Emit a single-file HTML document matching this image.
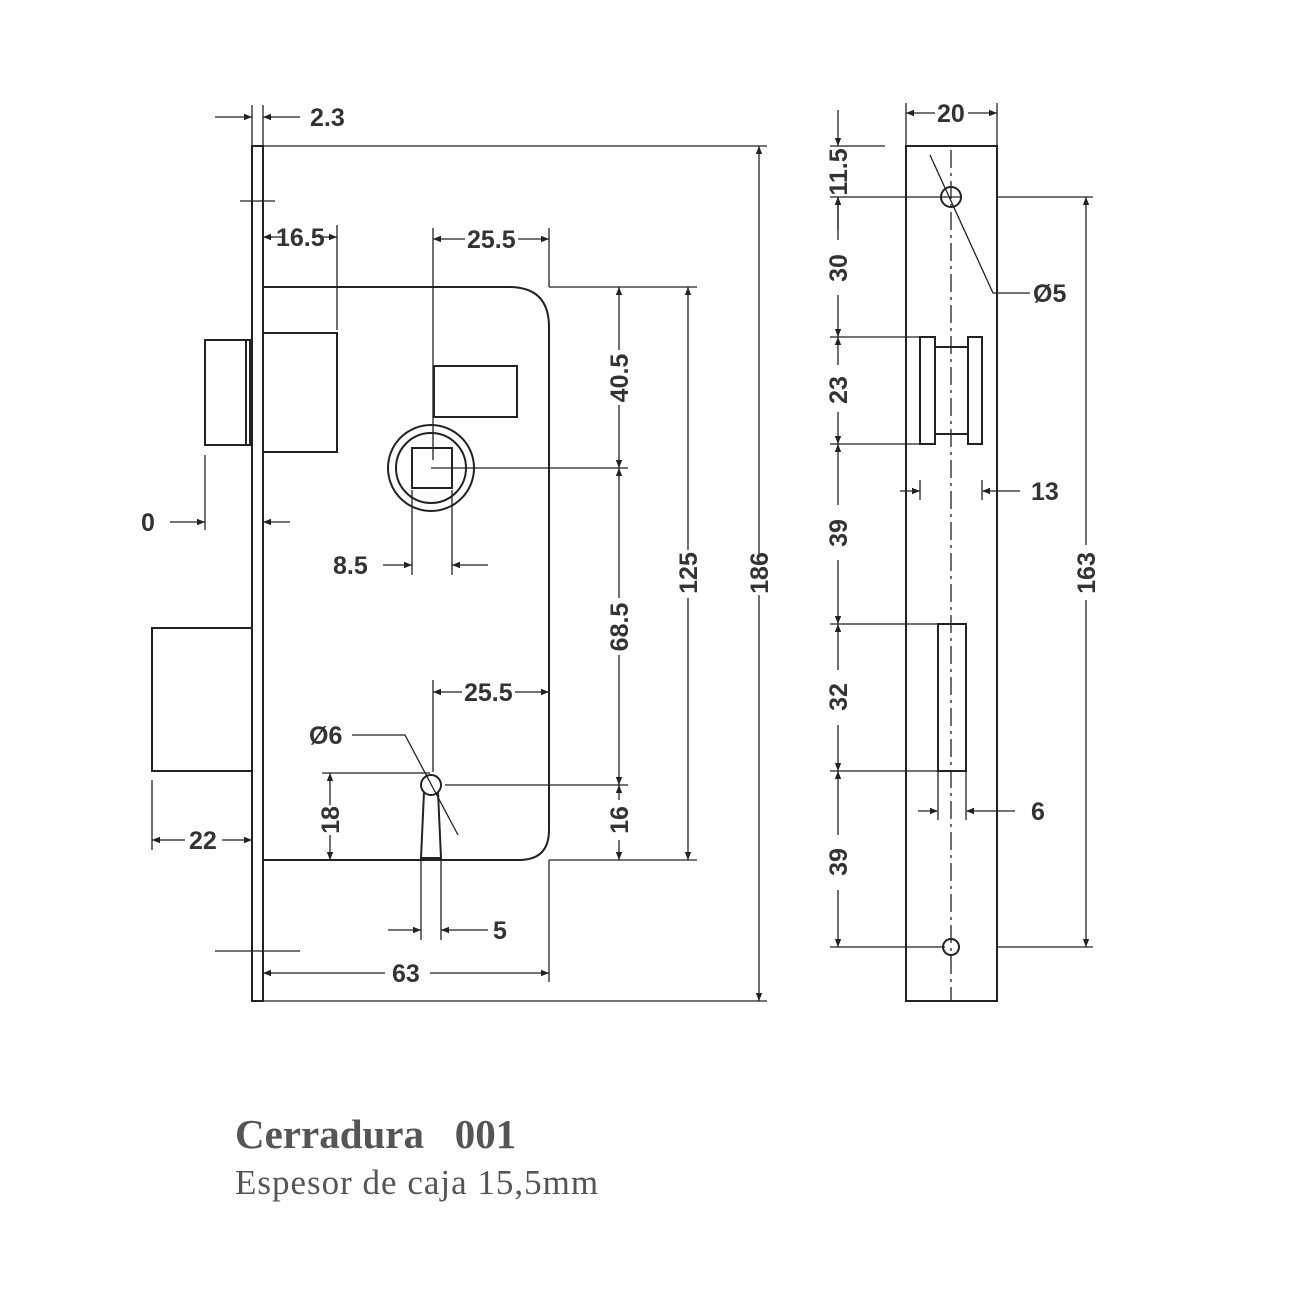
<!DOCTYPE html>
<html><head><meta charset="utf-8"><style>
html,body{margin:0;padding:0;background:#fff;}
svg{display:block}
.d{font-family:"Liberation Sans Narrow","Liberation Sans",sans-serif;font-size:25px;fill:#333;font-weight:bold;}
</style></head><body>
<svg width="1300" height="1300" viewBox="0 0 1300 1300" xmlns="http://www.w3.org/2000/svg">
<defs>
<marker id="a" viewBox="0 0 10 10" refX="10" refY="5" markerWidth="12" markerHeight="8" orient="auto-start-reverse" markerUnits="userSpaceOnUse"><path d="M0,1 L10,5 L0,9 z" fill="#222"/></marker>
</defs>
<g stroke="#222" fill="none" stroke-width="2">
<rect x="252" y="146" width="11" height="855"/>
<path d="M263,287 H509 Q549,287 549,327 V830 Q549,860 519,860 H263"/>
<rect x="205" y="340" width="45" height="105"/>
<line x1="246" y1="340" x2="246" y2="445"/>
<rect x="263" y="333" width="74" height="119"/>
<rect x="152" y="628" width="100" height="143"/>
<rect x="434" y="366" width="83" height="51"/>
<circle cx="431" cy="468" r="43"/>
<circle cx="431" cy="468" r="35"/>
<rect x="412" y="448" width="40" height="40"/>
<circle cx="431" cy="785" r="10"/>
<path d="M424,792 L421,858 H441 L438,792"/>
</g>
<g stroke="#222" fill="none" stroke-width="1.3">
<line x1="215" y1="117" x2="252" y2="117" marker-end="url(#a)"/>
<line x1="300" y1="117" x2="263" y2="117" marker-end="url(#a)"/>
<line x1="252" y1="105" x2="252" y2="146"/><line x1="263" y1="105" x2="263" y2="146"/>
<line x1="263" y1="146" x2="767" y2="146"/>
<line x1="263" y1="1001" x2="767" y2="1001"/>
<line x1="240" y1="201" x2="275" y2="201"/>
<line x1="215" y1="951" x2="300" y2="951"/>
<line x1="759" y1="146" x2="759" y2="555" marker-start="url(#a)"/>
<line x1="759" y1="595" x2="759" y2="1001" marker-end="url(#a)"/>
<line x1="549" y1="287" x2="697" y2="287"/><line x1="549" y1="860" x2="697" y2="860"/>
<line x1="688" y1="287" x2="688" y2="550" marker-start="url(#a)"/>
<line x1="688" y1="598" x2="688" y2="860" marker-end="url(#a)"/>
<line x1="619" y1="287" x2="619" y2="350" marker-start="url(#a)"/>
<line x1="619" y1="405" x2="619" y2="468" marker-end="url(#a)"/>
<line x1="619" y1="468" x2="619" y2="598" marker-start="url(#a)"/>
<line x1="619" y1="655" x2="619" y2="785" marker-end="url(#a)"/>
<line x1="619" y1="785" x2="619" y2="800" marker-start="url(#a)"/>
<line x1="619" y1="840" x2="619" y2="860" marker-end="url(#a)"/>
<line x1="431" y1="468" x2="628" y2="468"/>
<line x1="445" y1="785" x2="628" y2="785"/>
<line x1="337" y1="225" x2="337" y2="330"/>
<line x1="282" y1="237" x2="263" y2="237" marker-end="url(#a)"/>
<line x1="318" y1="237" x2="337" y2="237" marker-end="url(#a)"/>
<line x1="433" y1="228" x2="433" y2="460"/><line x1="549" y1="228" x2="549" y2="287"/>
<line x1="465" y1="239" x2="433" y2="239" marker-end="url(#a)"/>
<line x1="518" y1="239" x2="549" y2="239" marker-end="url(#a)"/>
<line x1="433" y1="680" x2="433" y2="772"/>
<line x1="462" y1="692" x2="433" y2="692" marker-end="url(#a)"/>
<line x1="515" y1="692" x2="549" y2="692" marker-end="url(#a)"/>
<line x1="412" y1="490" x2="412" y2="575"/><line x1="452" y1="490" x2="452" y2="575"/>
<line x1="383" y1="565" x2="412" y2="565" marker-end="url(#a)"/>
<line x1="488" y1="565" x2="452" y2="565" marker-end="url(#a)"/>
<line x1="205" y1="455" x2="205" y2="530"/>
<line x1="170" y1="522" x2="205" y2="522" marker-end="url(#a)"/>
<line x1="290" y1="522" x2="263" y2="522" marker-end="url(#a)"/>
<line x1="152" y1="780" x2="152" y2="850"/>
<line x1="185" y1="840" x2="152" y2="840" marker-end="url(#a)"/>
<line x1="222" y1="840" x2="252" y2="840" marker-end="url(#a)"/>
<line x1="322" y1="773" x2="430" y2="773"/>
<line x1="330" y1="805" x2="330" y2="773" marker-end="url(#a)"/>
<line x1="330" y1="835" x2="330" y2="860" marker-end="url(#a)"/>
<polyline points="352,735 405,735 458,835"/>
<line x1="421" y1="860" x2="421" y2="940"/><line x1="441" y1="860" x2="441" y2="940"/>
<line x1="388" y1="930" x2="421" y2="930" marker-end="url(#a)"/>
<line x1="488" y1="930" x2="441" y2="930" marker-end="url(#a)"/>
<line x1="549" y1="860" x2="549" y2="982"/>
<line x1="385" y1="973" x2="263" y2="973" marker-end="url(#a)"/>
<line x1="430" y1="973" x2="549" y2="973" marker-end="url(#a)"/>
</g>
<g stroke="#222" fill="none" stroke-width="2">
<rect x="906" y="146" width="91" height="855"/>
<circle cx="951" cy="197" r="10"/>
<circle cx="951" cy="947" r="8"/>
<rect x="920" y="337" width="15" height="107"/>
<rect x="968" y="337" width="14" height="107"/>
<line x1="935" y1="347" x2="968" y2="347"/><line x1="935" y1="434" x2="968" y2="434"/>
<rect x="938" y="624" width="28" height="147"/>
</g>
<g stroke="#222" fill="none" stroke-width="1.3">
<line x1="951" y1="150" x2="951" y2="1000" stroke-dasharray="18,5,3,5"/>
<line x1="906" y1="103" x2="906" y2="146"/><line x1="997" y1="103" x2="997" y2="146"/>
<line x1="935" y1="113" x2="906" y2="113" marker-end="url(#a)"/>
<line x1="968" y1="113" x2="997" y2="113" marker-end="url(#a)"/>
<line x1="830" y1="146" x2="885" y2="146"/>
<line x1="830" y1="197" x2="960" y2="197"/>
<line x1="830" y1="337" x2="920" y2="337"/>
<line x1="830" y1="444" x2="920" y2="444"/>
<line x1="830" y1="624" x2="938" y2="624"/>
<line x1="830" y1="771" x2="938" y2="771"/>
<line x1="830" y1="947" x2="945" y2="947"/>
<line x1="838" y1="110" x2="838" y2="146" marker-end="url(#a)"/>
<line x1="838" y1="230" x2="838" y2="197" marker-end="url(#a)"/>
<line x1="838" y1="197" x2="838" y2="240" marker-start="url(#a)"/>
<line x1="838" y1="295" x2="838" y2="337" marker-end="url(#a)"/>
<line x1="838" y1="337" x2="838" y2="365" marker-start="url(#a)"/>
<line x1="838" y1="412" x2="838" y2="444" marker-end="url(#a)"/>
<line x1="838" y1="444" x2="838" y2="505" marker-start="url(#a)"/>
<line x1="838" y1="560" x2="838" y2="624" marker-end="url(#a)"/>
<line x1="838" y1="624" x2="838" y2="670" marker-start="url(#a)"/>
<line x1="838" y1="725" x2="838" y2="771" marker-end="url(#a)"/>
<line x1="838" y1="771" x2="838" y2="835" marker-start="url(#a)"/>
<line x1="838" y1="890" x2="838" y2="947" marker-end="url(#a)"/>
<line x1="997" y1="947" x2="1093" y2="947"/>
<line x1="997" y1="197" x2="1093" y2="197"/>
<line x1="1086" y1="197" x2="1086" y2="545" marker-start="url(#a)"/>
<line x1="1086" y1="600" x2="1086" y2="947" marker-end="url(#a)"/>
<line x1="900" y1="491" x2="920" y2="491" marker-end="url(#a)"/>
<line x1="1020" y1="491" x2="982" y2="491" marker-end="url(#a)"/>
<line x1="920" y1="480" x2="920" y2="500"/><line x1="982" y1="480" x2="982" y2="500"/>
<line x1="918" y1="811" x2="938" y2="811" marker-end="url(#a)"/>
<line x1="1015" y1="811" x2="966" y2="811" marker-end="url(#a)"/>
<line x1="938" y1="771" x2="938" y2="820"/><line x1="966" y1="771" x2="966" y2="820"/>
<polyline points="1030,293 993,293 930,155"/>
</g>
<g class="d">
<text x="310" y="126">2.3</text>
<text x="276" y="246">16.5</text>
<text x="467" y="248">25.5</text>
<text x="464" y="701">25.5</text>
<text x="333" y="574">8.5</text>
<text x="141" y="531">0</text>
<text x="189" y="849">22</text>
<text x="309" y="744">Ø6</text>
<text x="493" y="939">5</text>
<text x="392" y="982">63</text>
<text x="937" y="122">20</text>
<text x="1033" y="302">Ø5</text>
<text x="1031" y="500">13</text>
<text x="1031" y="820">6</text>
<text transform="translate(768,573) rotate(-90)" text-anchor="middle">186</text>
<text transform="translate(697,573) rotate(-90)" text-anchor="middle">125</text>
<text transform="translate(628,378) rotate(-90)" text-anchor="middle">40.5</text>
<text transform="translate(628,627) rotate(-90)" text-anchor="middle">68.5</text>
<text transform="translate(628,820) rotate(-90)" text-anchor="middle">16</text>
<text transform="translate(339,820) rotate(-90)" text-anchor="middle">18</text>
<text transform="translate(847,172) rotate(-90)" text-anchor="middle">11.5</text>
<text transform="translate(847,268) rotate(-90)" text-anchor="middle">30</text>
<text transform="translate(847,390) rotate(-90)" text-anchor="middle">23</text>
<text transform="translate(847,533) rotate(-90)" text-anchor="middle">39</text>
<text transform="translate(847,697) rotate(-90)" text-anchor="middle">32</text>
<text transform="translate(847,862) rotate(-90)" text-anchor="middle">39</text>
<text transform="translate(1095,573) rotate(-90)" text-anchor="middle">163</text>
</g>
<text x="235" y="1148" style="font-family:'Liberation Serif',serif;font-weight:bold;font-size:41px;fill:#555;white-space:pre" xml:space="preserve">Cerradura   001</text>
<text x="235" y="1194" style="font-family:'Liberation Serif',serif;font-size:35px;letter-spacing:1px;fill:#555">Espesor de caja 15,5mm</text>
</svg>
</body></html>
